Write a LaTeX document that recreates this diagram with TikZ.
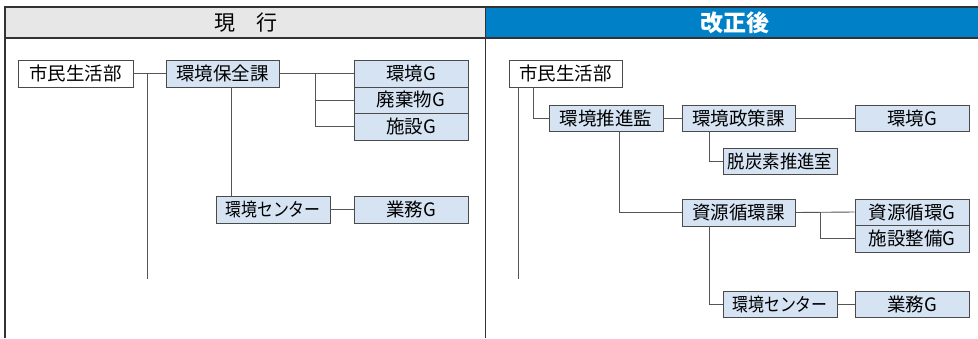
\documentclass[tikz,border=0pt]{standalone}
\usepackage{fontspec}
\setmainfont{Noto Sans CJK JP}
\definecolor{boxfill}{HTML}{D5E3F3}
\definecolor{boxline}{HTML}{4A4A4A}
\definecolor{conn}{HTML}{555555}
\definecolor{hgray}{HTML}{E7E7E7}
\definecolor{hblue}{HTML}{0080C6}
\definecolor{frame}{HTML}{333333}
\tikzset{
  bx/.style={draw=boxline, line width=0.9pt, fill=boxfill, inner sep=0pt, minimum height=27pt, minimum width=114pt, font=\fontsize{18.5}{19}\selectfont, text=black},
  wbx/.style={bx, fill=white},
  cn/.style={draw=conn, line width=0.9pt},
}
\begin{document}
\begin{tikzpicture}[x=1pt,y=-1pt]
\useasboundingbox (0,0) rectangle (978,338);
% headers
\fill[hgray] (5,7) rectangle (485.5,38);
\fill[hblue] (485.5,7) rectangle (978,38);
\node[font=\fontsize{21}{22}\selectfont, text=black] (h1) at (245.5,23) {現　行};
\node[font=\fontsize{23}{24}\selectfont\bfseries, text=white] (h2) at (735,23) {改正後};
\draw[frame, line width=1.4pt] (5,338) -- (5,7) -- (978,7);
\draw[frame, line width=1.4pt] (5,38) -- (978,38);
\draw[frame, line width=1.4pt] (485.5,7) -- (485.5,338);

% left panel
\node[wbx, minimum width=115pt] (a1) at (75.5,73.5) {市民生活部};
\node[bx, minimum width=113pt] (a2) at (222.5,73.5) {環境保全課};
\node[bx] (a3) at (411,73.5) {環境G};
\node[bx, minimum height=26pt] (a4) at (411,100) {廃棄物G};
\node[bx] (a5) at (411,126.5) {施設G};
\node[bx] (a6) at (273,209.5) {\scalebox{0.86}[1]{環境センター}};
\node[bx] (a7) at (411,209.5) {業務G};
\coordinate (a1end) at (147,279);

\draw[cn] (a1.east) -- (a2.west);
\draw[cn] (a1.east -| a1end) -- (a1end);
\draw[cn] (a2.east) -- (a3.west);
\draw[cn] (315,73.5) |- (a5.west);
\draw[cn] (315,100) -- (a4.west);
\draw[cn] (231,87) -- (231,196);
\draw[cn] (a6.east) -- (a7.west);

% right panel
\node[wbx, minimum width=113pt] (b1) at (565.5,73.5) {市民生活部};
\node[bx, minimum height=26pt] (b2) at (606,118) {環境推進監};
\node[bx, minimum width=113pt, minimum height=26pt] (b3) at (738.5,118) {環境政策課};
\node[bx, minimum height=26pt] (b4) at (912,118) {環境G};
\node[bx, minimum height=26pt] (b5) at (780,161) {\scalebox{0.94}[1]{脱炭素推進室}};
\node[bx, minimum width=113pt] (b6) at (738.5,212.5) {資源循環課};
\node[bx, minimum height=26pt] (b7) at (912,212) {資源循環G};
\node[bx] (b8) at (912,238.5) {施設整備G};
\node[bx, minimum height=26pt] (b9) at (780,304) {\scalebox{0.86}[1]{環境センター}};
\node[bx, minimum height=26pt] (b10) at (912,304) {業務G};
\coordinate (b1end) at (518,279);

\draw[cn] (518,87) -- (b1end);
\draw[cn] (533,87) |- (b2.west);
\draw[cn] (b2.east) -- (b3.west);
\draw[cn] (b3.east) -- (b4.west);
\draw[cn] (709,131) |- (b5.west);
\draw[cn] (619,131) |- (b6.west);
\draw[cn] (b6.east) -- (b7.west);
\draw[cn] (820,212) |- (b8.west);
\draw[cn] (709,225.5) |- (b9.west);
\draw[cn] (b9.east) -- (b10.west);
\end{tikzpicture}
\end{document}
